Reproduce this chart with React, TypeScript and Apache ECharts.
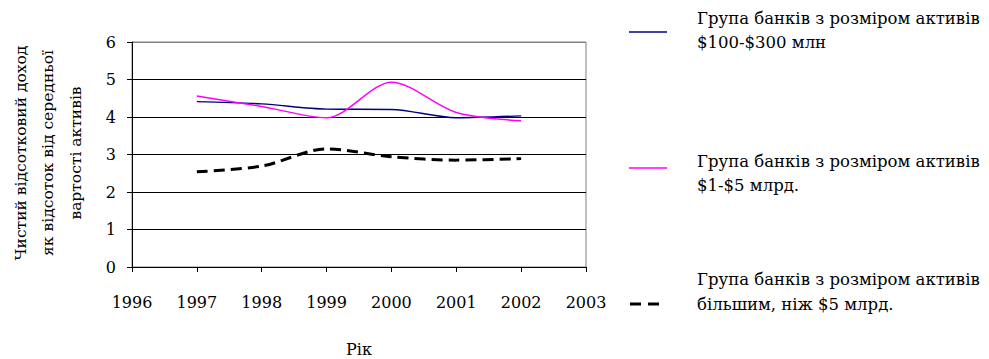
import React, { useEffect, useRef } from "react";
import * as echarts from "echarts";

const years = [1997, 1998, 1999, 2000, 2001, 2002];
const smallBanks = [4.41, 4.35, 4.21, 4.2, 3.98, 4.03];
const midBanks = [4.56, 4.28, 3.98, 4.93, 4.12, 3.9];
const largeBanks = [2.54, 2.69, 3.15, 2.94, 2.85, 2.89];

const seriesNames = [
  "Група банків з розміром активів\n$100-$300 млн",
  "Група банків з розміром активів\n$1-$5 млрд.",
  "Група банків з розміром активів\nбільшим, ніж $5 млрд.",
];
const yTitle = "Чистий відсотковий доход\nяк відсоток від середньої\nвартості активів";
const xTitle = "Рік";

const FONT = "DejaVu Serif";

export default function App() {
  const ref = useRef<HTMLDivElement>(null);
  useEffect(() => {
    if (!ref.current) return;
    const chart = echarts.init(ref.current, null, { renderer: "svg" });
    const pairs = (vals: number[]) => years.map((y, i) => [y, vals[i]]);
    const sampleY = [32, 168, 304];
    const textY = [30.5, 173.5, 292];
    const colors = ["#000080", "#ff00ff", "#000000"];
    const graphic: any[] = [
      {
        type: "text",
        x: 48,
        y: 153,
        rotation: Math.PI / 2,
        style: {
          text: yTitle,
          fontFamily: FONT,
          fontSize: 15.5,
          fill: "#000",
          align: "center",
          verticalAlign: "middle",
          lineHeight: 27.5,
        },
      },
    ];
    seriesNames.forEach((n, i) => {
      graphic.push({
        type: "line",
        shape: { x1: i === 2 ? 630 : 629, y1: sampleY[i], x2: i === 2 ? 660 : 667, y2: sampleY[i] },
        style: {
          stroke: colors[i],
          lineWidth: i === 2 ? 3 : 1.5,
          lineDash: i === 2 ? [11, 7] : null,
        },
      });
      graphic.push({
        type: "text",
        x: 697,
        y: textY[i],
        style: {
          text: n,
          fontFamily: FONT,
          fontSize: 16.5,
          fill: "#000",
          align: "left",
          verticalAlign: "middle",
          lineHeight: 24.5,
        },
      });
    });
    chart.setOption({
      animation: false,
      textStyle: { fontFamily: FONT },
      grid: {
        left: 132,
        top: 42,
        width: 454,
        height: 225,
        show: true,
        borderColor: "#808080",
        borderWidth: 1,
        containLabel: false,
        outerBoundsMode: "none",
      },
      xAxis: {
        type: "value",
        min: 1996,
        max: 2003,
        interval: 1,
        name: xTitle,
        nameLocation: "middle",
        nameGap: 74,
        nameTextStyle: { fontSize: 16, color: "#000", fontFamily: FONT },
        axisLine: { lineStyle: { color: "#000" } },
        axisTick: { show: true, inside: false, length: 5, lineStyle: { color: "#000" } },
        axisLabel: {
          margin: 27,
          fontSize: 16,
          color: "#000",
          fontFamily: FONT,
          formatter: (v: number) => String(v),
        },
        splitLine: { show: false },
      },
      yAxis: {
        type: "value",
        min: 0,
        max: 6,
        interval: 1,
        axisLine: { show: true, lineStyle: { color: "#000" } },
        axisTick: { show: true, inside: false, length: 5, lineStyle: { color: "#000" } },
        axisLabel: { margin: 16, fontSize: 16, color: "#000", fontFamily: FONT },
        splitLine: {
          show: true,
          lineStyle: {
            color: ["#000", "#000", "#000", "#000", "#000", "#000", "#808080"],
            width: 1,
          },
        },
      },
      graphic,
      series: [
        {
          name: seriesNames[0],
          type: "line",
          data: pairs(smallBanks),
          smooth: 0.3,
          showSymbol: false,
          lineStyle: { color: colors[0], width: 1.5 },
        },
        {
          name: seriesNames[1],
          type: "line",
          data: pairs(midBanks),
          smooth: 0.3,
          showSymbol: false,
          lineStyle: { color: colors[1], width: 1.5 },
        },
        {
          name: seriesNames[2],
          type: "line",
          data: pairs(largeBanks),
          smooth: 0.3,
          showSymbol: false,
          lineStyle: { color: colors[2], width: 3, type: [11, 6] },
        },
      ],
    });
    return () => chart.dispose();
  }, []);
  return <div ref={ref} style={{ width: 989, height: 359, position: "absolute", left: 0, top: 0 }} />;
}
